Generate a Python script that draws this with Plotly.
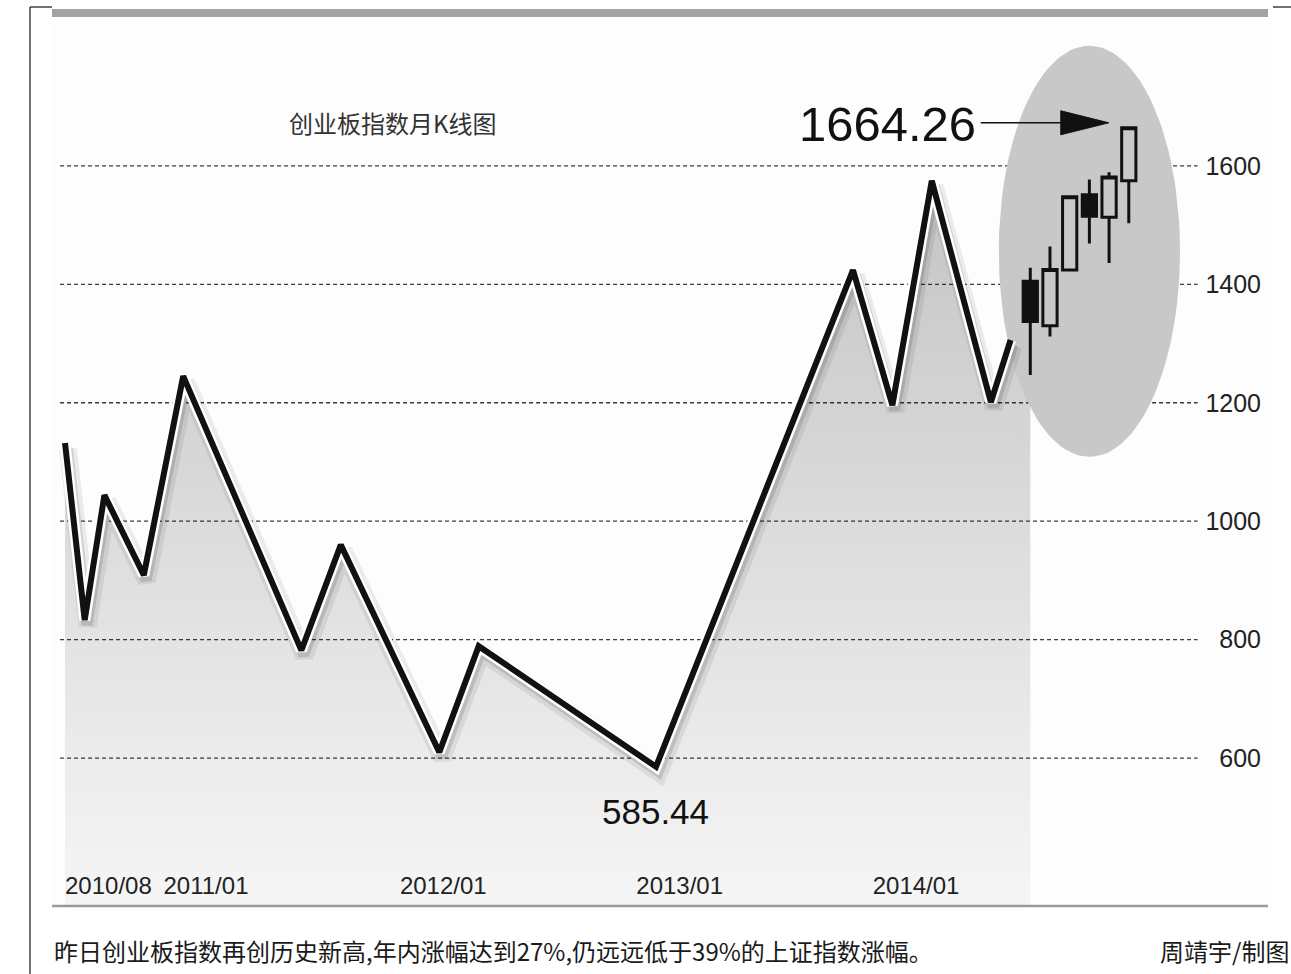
import math
import plotly.graph_objects as go

# ---------------- data ----------------
line_months = ["2010/08", "2010/09", "2010/10", "2010/12", "2011/02", "2011/08", "2011/10",
               "2012/03", "2012/05", "2013/02", "2013/12", "2014/02", "2014/04", "2014/07", "2014/08"]
line_values = [1132, 833, 1044, 909, 1245, 782, 960, 610, 789, 585.44, 1424, 1196, 1575, 1201, 1306]

candle_months = ["2014/09", "2014/10", "2014/11", "2014/12", "2015/01", "2015/02"]
candle_open = [1405, 1330, 1424, 1551, 1513, 1575]
candle_close = [1337, 1425, 1548, 1515, 1581, 1664.26]
candle_high = [1428, 1464, 1548, 1577, 1589, 1664.26]
candle_low = [1247, 1312, 1424, 1469, 1436, 1503]

x_tick_labels = ["2010/08", "2011/01", "2012/01", "2013/01", "2014/01"]
y_ticks = [600, 800, 1000, 1200, 1400, 1600]

title_text = "创业板指数月K线图"
caption_text = "昨日创业板指数再创历史新高,年内涨幅达到27%,仍远远低于39%的上证指数涨幅。"
credit_text = "周靖宇/制图"
high_label = "1664.26"
low_label = "585.44"


def month_index(s):
    y, m = s.split("/")
    return (int(y) - 2010) * 12 + int(m) - 8


lx = [month_index(s) for s in line_months]
cx = [month_index(s) for s in candle_months]
tick_x = [month_index(s) for s in x_tick_labels]

NUM = "Liberation Sans, Arial, sans-serif"
CJK = "Noto Sans CJK SC, sans-serif"

X_RANGE = [-0.66, 61.27]
Y_RANGE = [352, 1853]

fig = go.Figure()

# ---- base subplot: gradient area + highlight ellipse ----
fig.add_trace(go.Scatter(
    x=lx + [cx[0]], y=line_values + [candle_open[0]],
    mode="lines", line=dict(width=0), fill="tozeroy",
    fillgradient=dict(type="vertical", start=Y_RANGE[0], stop=1600,
                      colorscale=[[0, "rgba(0,0,0,0.03)"], [1, "rgba(0,0,0,0.23)"]]),
    hoverinfo="skip", showlegend=False))

mid_m = (cx[0] + cx[-1]) / 2 + 0.5
mid_v = (min(candle_low) + max(candle_high)) / 2
rx, ry = 4.6, 347
ts = [i * 2 * math.pi / 120 for i in range(121)]
fig.add_trace(go.Scatter(
    x=[mid_m + rx * math.cos(t) for t in ts], y=[mid_v + ry * math.sin(t) for t in ts],
    mode="lines", line=dict(width=0), fill="toself", fillcolor="#c8c8c8",
    hoverinfo="skip", showlegend=False))

# ---- overlay subplot: line with outline/shadow and candles ----
fig.add_trace(go.Scatter(x=[m + 0.15 for m in lx], y=[v - 10 for v in line_values], mode="lines",
                         xaxis="x2", yaxis="y2",
                         line=dict(color="rgba(0,0,0,0.07)", width=18), hoverinfo="skip", showlegend=False))
fig.add_trace(go.Scatter(x=[m + 0.12 for m in lx], y=[v - 8 for v in line_values], mode="lines",
                         xaxis="x2", yaxis="y2",
                         line=dict(color="rgba(0,0,0,0.12)", width=11), hoverinfo="skip", showlegend=False))
fig.add_trace(go.Scatter(x=lx, y=line_values, mode="lines", xaxis="x2", yaxis="y2",
                         line=dict(color="#ffffff", width=11), hoverinfo="skip", showlegend=False))
fig.add_trace(go.Scatter(x=lx, y=line_values, mode="lines", xaxis="x2", yaxis="y2",
                         line=dict(color="#111111", width=6), showlegend=False))

fig.add_trace(go.Candlestick(
    x=cx, open=candle_open, high=candle_high, low=candle_low, close=candle_close,
    xaxis="x2", yaxis="y2",
    increasing=dict(line=dict(color="#111111", width=3), fillcolor="rgba(0,0,0,0)"),
    decreasing=dict(line=dict(color="#111111", width=3), fillcolor="#111111"),
    showlegend=False))

shapes = []
for v in y_ticks:
    shapes.append(dict(type="line", xref="paper", yref="y", x0=0.0066, x1=0.939, y0=v, y1=v,
                       line=dict(color="#3a3a3a", width=1.3, dash="4px,3px"), layer="below"))
shapes.append(dict(type="rect", xref="paper", yref="paper", x0=0, x1=0.9967,
                   y0=(905 - 17) / 889, y1=(905 - 9) / 889,
                   fillcolor="#a3a3a3", line=dict(width=0), layer="above"))
shapes.append(dict(type="line", xref="paper", yref="paper", x0=0, x1=0.9967,
                   y0=(905 - 906) / 889, y1=(905 - 906) / 889,
                   line=dict(color="#9a9a9a", width=2.5), layer="above"))
shapes.append(dict(type="line", xref="paper", yref="paper", x0=(30 - 52) / 1220, x1=(30 - 52) / 1220,
                   y0=(905 - 7) / 889, y1=(905 - 980) / 889, line=dict(color="#111", width=1.2)))
shapes.append(dict(type="line", xref="paper", yref="paper", x0=(30 - 52) / 1220, x1=0,
                   y0=(905 - 7) / 889, y1=(905 - 7) / 889, line=dict(color="#111", width=1.2)))
shapes.append(dict(type="line", xref="paper", yref="paper", x0=(1273 - 52) / 1220, x1=(1295 - 52) / 1220,
                   y0=(905 - 7) / 889, y1=(905 - 7) / 889, line=dict(color="#111", width=1.2)))
shapes.append(dict(type="line", xref="x", yref="y", xsizemode="pixel", ysizemode="pixel",
                   xanchor=cx[-1], yanchor=max(candle_high), x0=-148, x1=-64, y0=5, y1=5,
                   line=dict(color="#111", width=1.5), layer="above"))
shapes.append(dict(type="path", xref="x", yref="y", xsizemode="pixel", ysizemode="pixel",
                   xanchor=cx[-1], yanchor=max(candle_high),
                   path="M -68 -7 L -20 5 L -68 17 Z",
                   fillcolor="#111", line=dict(color="#111", width=1), layer="above"))

annotations = [
    dict(text=title_text, xref="paper", yref="paper", x=(393 - 52) / 1220, y=(905 - 123) / 889,
         xanchor="center", yanchor="middle", showarrow=False,
         font=dict(family=CJK, size=24, color="#333333")),
    dict(text=caption_text, xref="paper", yref="paper", x=0, y=(905 - 950) / 889,
         xanchor="left", yanchor="middle", showarrow=False,
         font=dict(family=CJK, size=24, color="#1a1a1a")),
    dict(text=credit_text, xref="paper", yref="paper", x=(1291 - 52) / 1220, y=(905 - 950) / 889,
         xanchor="right", yanchor="middle", showarrow=False,
         font=dict(family=CJK, size=24, color="#1a1a1a")),
    dict(text=high_label, xref="x", yref="y", x=cx[-1], y=max(candle_high), xanchor="right",
         yanchor="middle", xshift=-151, yshift=4, showarrow=False,
         font=dict(family=NUM, size=49, color="#111")),
    dict(text=low_label, xref="x", yref="y", x=lx[line_values.index(min(line_values))],
         y=min(line_values), yanchor="middle", yshift=-45, showarrow=False,
         font=dict(family=NUM, size=35, color="#111")),
]

axis_common = dict(showgrid=False, zeroline=False, showline=False, ticks="")
fig.update_layout(
    width=1291, height=974,
    margin=dict(l=52, r=19, t=16, b=69),
    paper_bgcolor="#ffffff", plot_bgcolor="#fdfdfd",
    shapes=shapes, annotations=annotations,
    boxgap=0.15, boxgroupgap=0.15,
    xaxis=dict(range=X_RANGE, tickvals=tick_x, ticktext=x_tick_labels, ticklabelposition="inside right",
               tickangle=0, tickfont=dict(family=NUM, size=24, color="#222"),
               rangeslider=dict(visible=False), **axis_common),
    yaxis=dict(range=Y_RANGE, tickvals=y_ticks, side="right", ticklabelposition="inside",
               ticklabelstandoff=8, tickfont=dict(family=NUM, size=25, color="#222"), **axis_common),
    xaxis2=dict(range=X_RANGE, overlaying="x", visible=False, rangeslider=dict(visible=False)),
    yaxis2=dict(range=Y_RANGE, overlaying="y", visible=False),
    showlegend=False,
)

fig.write_html("out.html", config={"displayModeBar": False},
               post_script="document.body.style.margin='0';")
